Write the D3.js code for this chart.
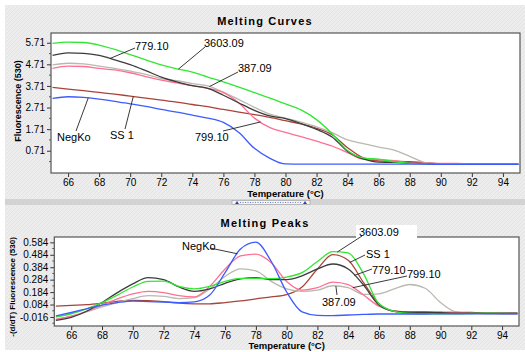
<!DOCTYPE html>
<html>
<head>
<meta charset="utf-8">
<script src="https://cdn.jsdelivr.net/npm/d3@7/dist/d3.min.js"></script>
<style>
  body { margin: 0; background: #fff; }
  svg { display: block; }
  text { font-family: "Liberation Sans Narrow", "Liberation Sans", Arial, sans-serif; fill: #000; }
  .title { font-family: "Liberation Sans", Arial, sans-serif; font-weight: bold; font-size: 11px; letter-spacing: 1.2px; }
  .axtitle { font-family: "Liberation Sans", Arial, sans-serif; font-weight: bold; }
</style>
</head>
<body>
<svg id="chart" width="525" height="352"></svg>
<script>
// temperatures (deg C) shared by every series
const temps = [65, 66, 67, 68, 69, 70, 71, 72, 73, 74, 75, 76, 77, 78, 79, 80,
  81, 82, 83, 84, 85, 86, 87, 88, 89, 90, 91, 92, 93, 94, 95];

const seriesNames = ["SS 1", "387.09", "799.10", "779.10", "3603.09", "NegKo"];
const seriesColors = ["#a8433a", "#b9b9b0", "#ff6f93", "#3c3c3c", "#33e633", "#3d5cff"];

// Melting curves, fluorescence (530)
const meltSS1 = [3.64, 3.56, 3.49, 3.41, 3.33, 3.24, 3.15, 3.05, 2.96, 2.85, 2.75, 2.62, 2.50, 2.38, 2.25, 2.10,
  1.95, 1.75, 1.45, 0.85, 0.38, 0.24, 0.22, 0.20, 0.16, 0.10, 0.08, 0.08, 0.08, 0.08, 0.08];
const melt38709 = [4.68, 4.76, 4.73, 4.63, 4.52, 4.40, 4.25, 4.05, 3.95, 3.82, 3.71, 3.42, 3.08, 2.72, 2.40, 2.22,
  2.03, 1.82, 1.55, 1.21, 1.04, 0.88, 0.74, 0.45, 0.16, 0.09, 0.08, 0.08, 0.08, 0.08, 0.08];
const melt79910 = [4.52, 4.63, 4.61, 4.52, 4.45, 4.32, 4.14, 3.98, 3.85, 3.72, 3.60, 3.40, 2.92, 2.22, 1.78, 1.56,
  1.36, 1.15, 0.93, 0.62, 0.32, 0.30, 0.25, 0.15, 0.13, 0.12, 0.12, 0.11, 0.11, 0.11, 0.11];
const melt77910 = [5.12, 5.24, 5.22, 5.12, 4.92, 4.70, 4.42, 4.12, 3.90, 3.72, 3.60, 3.28, 2.92, 2.58, 2.32, 2.20,
  1.97, 1.70, 1.35, 0.68, 0.33, 0.18, 0.17, 0.14, 0.10, 0.08, 0.08, 0.08, 0.08, 0.08, 0.08];
const melt360309 = [5.68, 5.74, 5.72, 5.60, 5.40, 5.16, 4.92, 4.68, 4.50, 4.35, 4.12, 3.90, 3.66, 3.40, 3.15, 2.88,
  2.60, 2.15, 1.50, 0.72, 0.38, 0.32, 0.20, 0.13, 0.10, 0.09, 0.09, 0.08, 0.08, 0.08, 0.08];
const meltNegKo = [3.13, 3.21, 3.18, 3.10, 3.00, 2.88, 2.76, 2.62, 2.50, 2.36, 2.22, 2.02, 1.55, 0.82, 0.36, 0.10,
  0.09, 0.09, 0.09, 0.09, 0.09, 0.09, 0.09, 0.09, 0.09, 0.08, 0.08, 0.08, 0.08, 0.08, 0.08];

// Melting peaks, -(d/dT) fluorescence (530)
const peakSS1 = [0.072, 0.078, 0.083, 0.095, 0.110, 0.118, 0.115, 0.108, 0.095, 0.090, 0.090, 0.100, 0.113, 0.130, 0.145, 0.163,
  0.225, 0.370, 0.485, 0.440, 0.260, 0.090, 0.030, 0.025, 0.025, 0.022, 0.020, 0.020, 0.015, 0.012, 0.012];
const peak38709 = [-0.035, -0.010, 0.025, 0.065, 0.100, 0.131, 0.155, 0.150, 0.132, 0.140, 0.210, 0.310, 0.370, 0.355, 0.270, 0.210,
  0.190, 0.200, 0.235, 0.220, 0.165, 0.170, 0.210, 0.245, 0.215, 0.100, 0.025, 0.015, 0.012, 0.012, 0.012];
const peak79910 = [-0.035, -0.010, 0.030, 0.080, 0.130, 0.170, 0.190, 0.180, 0.155, 0.145, 0.230, 0.370, 0.475, 0.490, 0.420, 0.270,
  0.200, 0.220, 0.265, 0.245, 0.160, 0.070, 0.030, 0.020, 0.020, 0.020, 0.020, 0.015, 0.012, 0.012, 0.012];
const peak77910 = [-0.043, -0.020, 0.030, 0.100, 0.180, 0.250, 0.300, 0.285, 0.225, 0.190, 0.210, 0.255, 0.290, 0.300, 0.285, 0.285,
  0.315, 0.370, 0.410, 0.370, 0.240, 0.080, 0.030, 0.020, 0.020, 0.018, 0.015, 0.015, 0.015, 0.015, 0.015];
const peak360309 = [-0.016, 0.010, 0.050, 0.100, 0.160, 0.225, 0.270, 0.273, 0.230, 0.210, 0.230, 0.270, 0.295, 0.295, 0.292, 0.305,
  0.340, 0.430, 0.510, 0.500, 0.330, 0.090, 0.030, 0.012, 0.010, 0.010, 0.010, 0.012, 0.015, 0.012, 0.010];
const peakNegKo = [-0.008, 0.020, 0.050, 0.080, 0.100, 0.112, 0.108, 0.104, 0.100, 0.105, 0.160, 0.340, 0.530, 0.585, 0.430, 0.185,
  0.025, -0.003, -0.005, 0.000, 0.005, 0.008, 0.008, 0.008, 0.008, 0.010, 0.010, 0.010, 0.010, 0.010, 0.010];

const meltSeries = [meltSS1, melt38709, melt79910, melt77910, melt360309, meltNegKo];
const peakSeries = [peakSS1, peak38709, peak79910, peak77910, peak360309, peakNegKo];

const xTicks = [66, 68, 70, 72, 74, 76, 78, 80, 82, 84, 86, 88, 90, 92, 94];
const meltTicks = [0.71, 1.71, 2.71, 3.71, 4.71, 5.71];
const peakTicks = [-0.016, 0.084, 0.184, 0.284, 0.384, 0.484, 0.584];

// label layout: curve point (temperature) + text / leader position in px
const meltLabels = [
  { name: "779.10", t: 68.7, tx: 135, ty: 50, lx: 135, ly: 48 },
  { name: "3603.09", t: 73.1, tx: 204, ty: 47, lx: 205, ly: 47 },
  { name: "387.09", t: 75.1, tx: 238, ty: 72, lx: 238, ly: 72 },
  { name: "799.10", t: 78.4, tx: 195, ty: 141, lx: 223, ly: 131 },
  { name: "SS 1", t: 70.2, tx: 110, ty: 139, lx: 125, ly: 129 },
  { name: "NegKo", t: 67.3, tx: 57, ty: 141, lx: 76, ly: 131 }
];
const peakLabels = [
  { name: "NegKo", t: 76.8, tx: 182, ty: 250, lx: 210, ly: 248 },
  { name: "3603.09", t: 83.3, tx: 359, ty: 236, lx: 362, ly: 236, box: true },
  { name: "SS 1", t: 84.1, tx: 366, ty: 258, lx: 365, ly: 255 },
  { name: "779.10", t: 84.4, tx: 372, ty: 274, lx: 372, ly: 269 },
  { name: "799.10", t: 84.3, tx: 407, ty: 278, lx: 407, ly: 276 },
  { name: "387.09", t: 83.2, tx: 322, ty: 306, lx: 337, ly: 295 }
];

const svg = d3.select("#chart");

// hatched panel background
const defs = svg.append("defs");
const pat = defs.append("pattern")
  .attr("id", "hatch").attr("width", 4).attr("height", 4)
  .attr("patternUnits", "userSpaceOnUse");
pat.append("rect").attr("width", 4).attr("height", 4).attr("fill", "#ededed");
pat.append("path").attr("d", "M0,4 L4,0").attr("stroke", "#e3e3e3").attr("stroke-width", 1);

svg.append("rect").attr("x", 5).attr("y", 5).attr("width", 520).attr("height", 345).attr("fill", "url(#hatch)");

// splitter bar between the two panels
svg.append("rect").attr("x", 5).attr("y", 199).attr("width", 520).attr("height", 6).attr("fill", "#d3d3d3");
svg.append("rect").attr("x", 232).attr("y", 200.5).attr("width", 78).attr("height", 4)
  .attr("fill", "#f4f4f4").attr("stroke", "#9a9a9a").attr("stroke-width", 0.6);
svg.append("line").attr("x1", 240).attr("x2", 302).attr("y1", 202.5).attr("y2", 202.5)
  .attr("stroke", "#4a62c8").attr("stroke-width", 0.8).attr("stroke-dasharray", "1,1.5");
[237, 305].forEach(function (cx) {
  svg.append("path").attr("d", "M" + (cx - 2) + ",204 L" + (cx + 2) + ",204 L" + cx + ",201 Z").attr("fill", "#2a44b8");
});

function drawPanel(cfg) {
  let x = d3.scaleLinear().domain([64.9, 95.1]).range([cfg.left, cfg.right]);
  let y = d3.scaleLinear().domain(cfg.yDomain).range([cfg.bottom, cfg.top]);
  let g = svg.append("g");

  g.append("rect")
    .attr("x", cfg.left).attr("y", cfg.top)
    .attr("width", cfg.right - cfg.left).attr("height", cfg.bottom - cfg.top)
    .attr("fill", "#fff");

  g.append("text").attr("class", "title")
    .attr("x", 265).attr("y", cfg.titleY)
    .attr("text-anchor", "middle")
    .text(cfg.title);

  // minor y ticks
  let step = cfg.ticks[1] - cfg.ticks[0];
  let minor = [];
  cfg.ticks.forEach(function (t) { minor.push(t - step / 2); });
  minor.push(cfg.ticks[cfg.ticks.length - 1] + step / 2);
  g.selectAll(".minor").data(minor.filter(function (v) { return v > cfg.yDomain[0] && v < cfg.yDomain[1]; }))
    .enter().append("line")
    .attr("x1", cfg.left - 2).attr("x2", cfg.left)
    .attr("y1", function (d) { return y(d); }).attr("y2", function (d) { return y(d); })
    .attr("stroke", "#333").attr("stroke-width", 0.8);

  let xAxis = g.append("g")
    .attr("transform", "translate(0," + cfg.bottom + ")")
    .call(d3.axisBottom(x).tickValues(xTicks).tickSize(4).tickPadding(2).tickFormat(d3.format("d")));
  let yAxis = g.append("g")
    .attr("transform", "translate(" + cfg.left + ",0)")
    .call(d3.axisLeft(y).tickValues(cfg.ticks).tickSize(4).tickPadding(2).tickFormat(function (d) { return String(d); }));
  [xAxis, yAxis].forEach(function (a) {
    a.select(".domain").remove();
    a.selectAll("line").attr("stroke", "#333");
    a.selectAll("text").attr("font-size", 10)
      .attr("font-family", "'Liberation Sans Narrow', 'Liberation Sans', Arial, sans-serif");
  });

  g.append("text").attr("class", "axtitle")
    .attr("x", (cfg.left + cfg.right) / 2).attr("y", cfg.xTitleY)
    .attr("text-anchor", "middle").attr("font-size", 9.5)
    .text("Temperature (\u00B0C)");

  g.append("text").attr("class", "axtitle")
    .attr("transform", "translate(" + cfg.yTitleX + "," + cfg.yTitleY + ") rotate(-90)")
    .attr("text-anchor", "middle").attr("font-size", cfg.yTitleSize)
    .text(cfg.yTitle);

  let line = d3.line()
    .x(function (d, i) { return x(temps[i]); })
    .y(function (d) { return y(d); })
    .curve(d3.curveMonotoneX);

  let clipId = "clip" + cfg.top;
  defs.append("clipPath").attr("id", clipId).append("rect")
    .attr("x", cfg.left).attr("y", cfg.top)
    .attr("width", cfg.right - cfg.left).attr("height", cfg.bottom - cfg.top);

  g.append("g").attr("clip-path", "url(#" + clipId + ")")
    .selectAll("path").data(cfg.series).enter().append("path")
    .attr("d", line)
    .attr("fill", "none")
    .attr("stroke", function (d, i) { return seriesColors[i]; })
    .attr("stroke-width", 1.3);

  g.append("rect")
    .attr("x", cfg.left).attr("y", cfg.top)
    .attr("width", cfg.right - cfg.left).attr("height", cfg.bottom - cfg.top)
    .attr("fill", "none").attr("stroke", "#555").attr("stroke-width", 1.2);

  // curve labels with leader lines
  cfg.labels.forEach(function (lb) {
    let s = cfg.series[seriesNames.indexOf(lb.name)];
    let v = d3.scaleLinear().domain(temps).range(s)(lb.t);
    if (lb.box) {
      g.append("rect").attr("x", lb.tx - 3).attr("y", lb.ty - 11)
        .attr("width", 61).attr("height", 13).attr("fill", "#fff");
    }
    g.append("line")
      .attr("x1", lb.lx).attr("y1", lb.ly)
      .attr("x2", x(lb.t)).attr("y2", y(v))
      .attr("stroke", "#222").attr("stroke-width", 0.9);
    g.append("text")
      .attr("x", lb.tx).attr("y", lb.ty)
      .attr("font-size", 11)
      .text(lb.name);
  });
}

drawPanel({
  left: 51, right: 520, top: 33, bottom: 173,
  yDomain: [-0.32, 6.16], ticks: meltTicks, series: meltSeries, labels: meltLabels,
  title: "Melting Curves", titleY: 25, xTitleY: 197,
  yTitle: "Fluorescence (530)", yTitleX: 21, yTitleY: 101, yTitleSize: 9
});

drawPanel({
  left: 54.3, right: 519, top: 237, bottom: 326,
  yDomain: [-0.0885, 0.627], ticks: peakTicks, series: peakSeries, labels: peakLabels,
  title: "Melting Peaks", titleY: 227, xTitleY: 349,
  yTitle: "-(d/dT) Fluorescence (530)", yTitleX: 15, yTitleY: 287, yTitleSize: 8
});
</script>
</body>
</html>
